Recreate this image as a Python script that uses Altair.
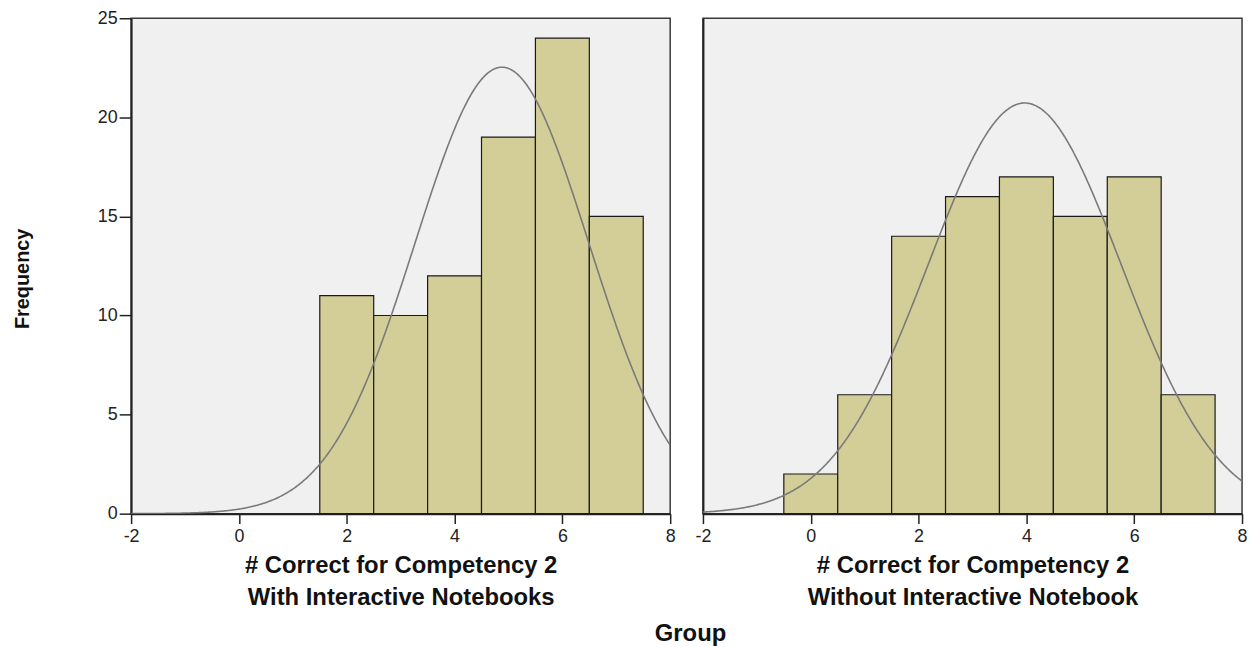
import altair as alt
import pandas as pd
import numpy as np

# ---- data ----
scores = [0, 1, 2, 3, 4, 5, 6, 7]
counts_with = [0, 0, 11, 10, 12, 19, 24, 15]
counts_without = [2, 6, 14, 16, 17, 15, 17, 6]
panel_titles = [
    ["# Correct for Competency 2", "With Interactive Notebooks"],
    ["# Correct for Competency 2", "Without Interactive Notebook"],
]
x_ticks = [-2, 0, 2, 4, 6, 8]
y_ticks = [0, 5, 10, 15, 20, 25]
x_domain = [-2, 8]
y_domain = [0, 25]

FONT = "Liberation Sans"
BAR_FILL = "#D3CE97"
BG = "#F0F0F0"


def normal_fit(counts):
    s = np.array(scores, dtype=float)
    c = np.array(counts, dtype=float)
    n = c.sum()
    mean = (s * c).sum() / n
    var = (c * (s - mean) ** 2).sum() / (n - 1)
    return n, mean, float(np.sqrt(var))


def panel(counts, title_lines, show_y):
    df = pd.DataFrame({"score": scores, "count": counts})
    df = df[df["count"] > 0]
    df["x0"] = df["score"] - 0.5
    df["x1"] = df["score"] + 0.5

    xaxis = alt.Axis(
        values=x_ticks, grid=False, labelFlush=False, tickSize=10, tickWidth=1.5,
        tickColor="#222", domainColor="#222", domainWidth=2,
        labelExpr="'' + datum.value",
        labelFont=FONT, labelFontSize=18, labelColor="#222", labelPadding=4,
        title=title_lines, titleFont=FONT, titleFontSize=24, titleFontWeight="bold",
        titleColor="#111", titlePadding=8, titleLineHeight=33,
    )
    if show_y:
        yaxis = alt.Axis(
            values=y_ticks, grid=False, tickSize=12, tickWidth=1.5, tickColor="#222",
            domainColor="#222", domainWidth=2,
            labelFont=FONT, labelFontSize=18, labelColor="#222", labelPadding=2,
            title="Frequency", titleFont=FONT, titleFontSize=20, titleFontWeight="bold",
            titleColor="#111", titlePadding=65, titleY=262,
        )
    else:
        yaxis = alt.Axis(
            values=y_ticks, grid=False, ticks=False, labels=False, title=None,
            domainColor="#222", domainWidth=2,
        )

    xs = alt.Scale(domain=x_domain, nice=False, zero=False)
    ys = alt.Scale(domain=y_domain, nice=False)

    bars = alt.Chart(df).mark_rect(
        fill=BAR_FILL, stroke="#1a1a1a", strokeWidth=1.2
    ).encode(
        x=alt.X("x0:Q", scale=xs, axis=xaxis),
        x2="x1:Q",
        y=alt.Y("count:Q", scale=ys, axis=yaxis),
        y2=alt.datum(0),
    )

    n, mean, sd = normal_fit(counts)
    curve = alt.Chart(alt.sequence(-2, 8.001, 0.02, as_="x")).transform_calculate(
        f=f"{n} * densityNormal(datum.x, {mean}, {sd})"
    ).mark_line(color="#7a7a7a", strokeWidth=1.6, clip=True).encode(
        x=alt.X("x:Q", scale=xs),
        y=alt.Y("f:Q", scale=ys),
    )

    return alt.layer(bars, curve).properties(width=543, height=499)


left = panel(counts_with, panel_titles[0], True)
right = panel(counts_without, panel_titles[1], False)

chart = alt.hconcat(left, right, spacing=33, bounds="flush").properties(
    title=alt.TitleParams(
        "Group", orient="bottom", anchor="middle", dx=61, offset=12,
        font=FONT, fontSize=24, fontWeight="bold", color="#111",
    ),
    padding={"left": 4, "top": -2, "right": 0, "bottom": 0},
).configure_view(fill=BG, stroke="#3a3a3a", strokeWidth=1.5)

chart.save("out.html", embed_options={"renderer": "svg", "actions": False})
